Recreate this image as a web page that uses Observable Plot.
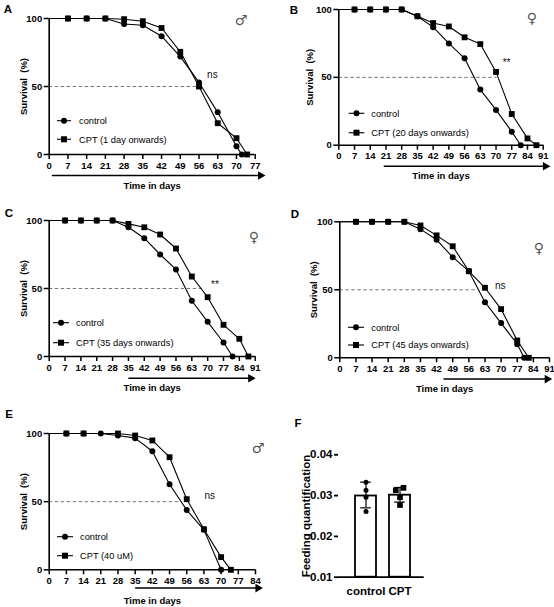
<!DOCTYPE html>
<html>
<head>
<meta charset="utf-8">
<script src="https://cdn.jsdelivr.net/npm/d3@7"></script>
<script src="https://cdn.jsdelivr.net/npm/@observablehq/plot@0.6"></script>
<style>
  body { margin: 0; background: #fff; }
  #fig { position: relative; width: 554px; height: 607px; font-family: "Liberation Sans", Arial, Helvetica, sans-serif; color: #000; }
  .panel { position: absolute; }
  .panel svg { overflow: visible; }
  .letter { position: absolute; font-weight: bold; font-size: 11.5px; line-height: 1; transform: translate(-50%, -50%); }
  .sex { position: absolute; font-family: "DejaVu Sans", sans-serif; font-size: 14px; line-height: 1; color: #555; transform: translate(-50%, -50%); }
  .overlay { position: absolute; left: 0; top: 0; pointer-events: none; overflow: visible; }
</style>
</head>
<body>
<div id="fig"></div>
<script>
// ---------------- DATA ----------------
// Panel A (male, CPT from day 1)
const ctrlDaysA = [0, 7, 14, 21, 28, 35, 42, 49, 56, 63, 70, 72];
const ctrlSurvA = [100, 100, 100, 100, 96, 95, 87, 72, 53, 31, 6, 0];
const cptDaysA  = [0, 7, 14, 21, 28, 35, 42, 49, 56, 63, 70, 74];
const cptSurvA  = [100, 100, 100, 100, 99.5, 98, 93, 75.5, 50, 23, 12, 0];
const xTicksA = [0, 7, 14, 21, 28, 35, 42, 49, 56, 63, 70, 77];

// Panel B (female, CPT from day 20)
const ctrlDaysB = [0, 7, 14, 21, 28, 35, 42, 49, 56, 63, 70, 77, 81];
const ctrlSurvB = [100, 100, 100, 100, 100, 95, 87, 75, 64, 41, 26, 10, 0];
const cptDaysB  = [0, 7, 14, 21, 28, 35, 42, 49, 56, 63, 70, 77, 84, 88];
const cptSurvB  = [100, 100, 100, 100, 100, 95, 90, 87.5, 79.5, 74.5, 54, 23, 5, 0];
const xTicksB = [0, 7, 14, 21, 28, 35, 42, 49, 56, 63, 70, 77, 84, 91];

// Panel C (female, CPT from day 35)
const ctrlDaysC = [0, 7, 14, 21, 28, 35, 42, 49, 56, 63, 70, 77, 81];
const ctrlSurvC = [100, 100, 100, 100, 100, 95, 87, 75, 64, 41, 25.5, 10.3, 0];
const cptDaysC  = [0, 7, 14, 21, 28, 35, 42, 49, 56, 63, 70, 77, 84, 88];
const cptSurvC  = [100, 100, 100, 100, 100, 97.5, 95, 89.7, 79.4, 58.8, 43.6, 23.3, 13, 0];
const xTicksC = [0, 7, 14, 21, 28, 35, 42, 49, 56, 63, 70, 77, 84, 91];

// Panel D (female, CPT from day 45)
const ctrlDaysD = [0, 7, 14, 21, 28, 35, 42, 49, 56, 63, 70, 77, 80];
const ctrlSurvD = [100, 100, 100, 100, 100, 94.6, 86.8, 74, 63.7, 40.9, 25.5, 10, 0];
const cptDaysD  = [0, 7, 14, 21, 28, 35, 42, 49, 56, 63, 70, 77, 82];
const cptSurvD  = [100, 100, 100, 100, 100, 97.3, 90, 82, 63.7, 51.5, 35.8, 12.7, 0];
const xTicksD = [0, 7, 14, 21, 28, 35, 42, 49, 56, 63, 70, 77, 84, 91];

// Panel E (male, CPT 40 uM)
const ctrlDaysE = [0, 7, 14, 21, 28, 35, 42, 49, 56, 63, 70];
const ctrlSurvE = [100, 100, 100, 100, 98.5, 96.6, 87, 62.8, 43.8, 29.3, 0];
const cptDaysE  = [0, 7, 14, 28, 35, 42, 49, 56, 63, 70, 74];
const cptSurvE  = [100, 100, 100, 100, 98.5, 94.9, 82.6, 51.8, 29.8, 9.3, 0];
const xTicksE = [0, 7, 14, 21, 28, 35, 42, 49, 56, 63, 70, 77, 84];

const yTicksSurv = [0, 50, 100];
const cptLabels = ["CPT (1 day onwards)", "CPT (20 days onwards)", "CPT (35 days onwards)", "CPT (45 days onwards)", "CPT (40 uM)"];
const treatStart = [1, 20, 35, 45, 35];        // start of the time arrow (days)
const arrowEnd   = [79, 92, 89, 90, 85];       // end of the time arrow (days)
const medianDay  = [55.5, 70.5, 67.5, 60, 53]; // end of the dashed 50% line (days)
const sigText = ["ns", "**", "**", "ns", "ns"];
const sigDay  = [61, 74.7, 73.2, 69.6, 65.4];
const sigSurv = [58.8, 61, 53, 53, 54];
const sexSymbols = ["\u2642\uFE0E", "\u2640\uFE0E", "\u2640\uFE0E", "\u2640\uFE0E", "\u2642\uFE0E"];

// Panel F (feeding quantification)
const groupsF = ["control", "CPT"];
const meansF  = [0.0299, 0.0301];
const errLoF  = [0.0270, 0.0284];
const errHiF  = [0.0333, 0.0320];
const ctrlPtsF = [0.0333, 0.0313, 0.0296, 0.0261];
const cptPtsF  = [0.0313, 0.0319, 0.0296, 0.0277];
const yTicksF = [0.01, 0.02, 0.03, 0.04];

// ---------------- LAYOUT ----------------
const FONT = '"Liberation Sans", Arial, Helvetica, sans-serif';
const fig = document.getElementById("fig");

const panels = [
  {id: "A", ctrlDays: ctrlDaysA, ctrlSurv: ctrlSurvA, cptDays: cptDaysA, cptSurv: cptSurvA, xTicks: xTicksA,
   left: 0, top: 0, h: 200, ml: 48.7, mr: 22.3, mt: 18, mb: 46, yLabOff: 29, arrowDy: 21,
   leg: {x0: 57, x1: 71, y0: 120.7, y1: 139.3, tx: 79}, letter: [8, 10], sex: [241, 20]},
  {id: "B", ctrlDays: ctrlDaysB, ctrlSurv: ctrlSurvB, cptDays: cptDaysB, cptSurv: cptSurvB, xTicks: xTicksB,
   left: 277, top: 0, h: 200, ml: 61.3, mr: 11.3, mt: 9, mb: 55.3, yLabOff: 32.3, arrowDy: 21,
   leg: {x0: 71.7, x1: 87.3, y0: 113.3, y1: 132.7, tx: 94.3}, letter: [17, 11], sex: [255, 18]},
  {id: "C", ctrlDays: ctrlDaysC, ctrlSurv: ctrlSurvC, cptDays: cptDaysC, cptSurv: cptSurvC, xTicks: xTicksC,
   left: 0, top: 200, h: 200, ml: 48.7, mr: 22.3, mt: 20, mb: 44, yLabOff: 28.7, arrowDy: 21.7,
   leg: {x0: 53, x1: 69, y0: 122.7, y1: 142.7, tx: 76}, letter: [9, 14], sex: [254, 37]},
  {id: "D", ctrlDays: ctrlDaysD, ctrlSurv: ctrlSurvD, cptDays: cptDaysD, cptSurv: cptSurvD, xTicks: xTicksD,
   left: 277, top: 200, h: 200, ml: 62.3, mr: 5, mt: 21.3, mb: 42.7, yLabOff: 29.9, arrowDy: 21.3,
   leg: {x0: 71, x1: 87, y0: 127.3, y1: 145, tx: 94.3}, letter: [18, 15], sex: [262, 48]},
  {id: "E", ctrlDays: ctrlDaysE, ctrlSurv: ctrlSurvE, cptDays: cptDaysE, cptSurv: cptSurvE, xTicks: xTicksE,
   left: 0, top: 400, h: 207, ml: 48.7, mr: 22, mt: 33, mb: 37.7, yLabOff: 28.7, arrowDy: 18.3,
   leg: {x0: 57, x1: 73, y0: 136.7, y1: 155.7, tx: 80}, letter: [9, 15], sex: [258, 48]}
];

function addDiv(cls, x, y, text) {
  const d = document.createElement("div");
  d.className = cls;
  d.style.left = x + "px";
  d.style.top = y + "px";
  d.textContent = text;
  fig.appendChild(d);
  return d;
}

panels.forEach((p, i) => {
  const ctrl = p.ctrlDays.map((d, k) => ({day: d, surv: p.ctrlSurv[k]}));
  const cpt = p.cptDays.map((d, k) => ({day: d, surv: p.cptSurv[k]}));
  const xMax = p.xTicks[p.xTicks.length - 1];

  const chart = Plot.plot({
    width: 277, height: p.h,
    marginLeft: p.ml, marginRight: p.mr, marginTop: p.mt, marginBottom: p.mb,
    style: {fontFamily: FONT, fontSize: "9.5px", fontWeight: "bold", background: "transparent", color: "#000", overflow: "visible"},
    x: {domain: [0, xMax]},
    y: {domain: [0, 100]},
    marks: [
      Plot.ruleY([50], {x1: 0, x2: medianDay[i], stroke: "#777", strokeWidth: 1, strokeDasharray: "3.5,2.5"}),
      Plot.line(ctrl, {x: "day", y: "surv", stroke: "#000", strokeWidth: 1.1}),
      Plot.line(cpt, {x: "day", y: "surv", stroke: "#000", strokeWidth: 1.1}),
      Plot.dot(ctrl.filter(d => d.day > 0), {x: "day", y: "surv", r: 3, fill: "#000", symbol: "circle"}),
      Plot.dot(cpt.filter(d => d.day > 0), {x: "day", y: "surv", r: 3.3, fill: "#000", symbol: "square"}),
      Plot.ruleX([0], {stroke: "#000", strokeWidth: 1.6}),
      Plot.ruleY([0], {stroke: "#000", strokeWidth: 1.6}),
      Plot.axisX({ticks: p.xTicks, tickSize: 5, tickPadding: 2.5, strokeWidth: 1.5, fontSize: 9.5, fontWeight: "bold",
        label: "Time in days", labelAnchor: "center", labelOffset: 34, labelArrow: "none"}),
      Plot.axisY({ticks: yTicksSurv, tickSize: 5, tickPadding: 2, strokeWidth: 1.5, fontSize: 9.5, fontWeight: "bold",
        label: "Survival\u00a0 (%)", labelAnchor: "center", labelOffset: p.yLabOff, labelArrow: "none"}),
      Plot.link([treatStart[i]], {x1: d => d, x2: arrowEnd[i], y1: 0, y2: 0, dy: p.arrowDy, stroke: "#000", strokeWidth: 1.5}),
      Plot.dot([arrowEnd[i]], {x: d => d, y: 0, dy: p.arrowDy, symbol: "triangle", rotate: 90, r: 3.2, fill: "#000"}),
      Plot.text([sigText[i]], {x: sigDay[i], y: sigSurv[i], text: d => d, fontSize: 10, fontWeight: "normal", fill: "#111"})
    ]
  });

  const wrap = document.createElement("div");
  wrap.className = "panel";
  wrap.style.left = p.left + "px";
  wrap.style.top = p.top + "px";
  wrap.style.width = "277px";
  wrap.style.height = p.h + "px";
  wrap.appendChild(chart);

  // legend overlay
  const svg = d3.create("svg").attr("class", "overlay").attr("width", 277).attr("height", p.h);
  const rows = [
    {y: p.leg.y0, sym: "circle", label: "control"},
    {y: p.leg.y1, sym: "square", label: cptLabels[i]}
  ];
  rows.forEach(r => {
    svg.append("line").attr("x1", p.leg.x0).attr("x2", p.leg.x1).attr("y1", r.y).attr("y2", r.y)
      .attr("stroke", "#000").attr("stroke-width", 1.1);
    const cx = (p.leg.x0 + p.leg.x1) / 2;
    if (r.sym === "circle") svg.append("circle").attr("cx", cx).attr("cy", r.y).attr("r", 3).attr("fill", "#000");
    else svg.append("rect").attr("x", cx - 3).attr("y", r.y - 3).attr("width", 6).attr("height", 6).attr("fill", "#000");
    svg.append("text").attr("x", p.leg.tx).attr("y", r.y).attr("dy", "0.35em")
      .attr("font-family", FONT).attr("font-size", 9.3).attr("fill", "#000").text(r.label);
  });
  wrap.appendChild(svg.node());
  fig.appendChild(wrap);

  addDiv("letter", p.left + p.letter[0], p.top + p.letter[1], p.id);
  addDiv("sex", p.left + p.sex[0], p.top + p.sex[1], sexSymbols[i]);
});

// ---------------- PANEL F ----------------
(function () {
  const bars = groupsF.map((g, k) => ({group: g, mean: meansF[k], lo: errLoF[k], hi: errHiF[k]}));
  const ctrlPts = ctrlPtsF.map(v => ({group: groupsF[0], value: v}));
  const cptPts = cptPtsF.map(v => ({group: groupsF[1], value: v}));
  const chart = Plot.plot({
    width: 160, height: 207,
    marginLeft: 61, marginRight: 13.3, marginTop: 54.3, marginBottom: 30.3,
    style: {fontFamily: FONT, fontSize: "11.5px", fontWeight: "bold", background: "transparent", color: "#000", overflow: "visible"},
    x: {domain: groupsF, range: [77.3, 133.3], paddingInner: 0.38, paddingOuter: 0},
    y: {domain: [yTicksF[0], yTicksF[yTicksF.length - 1]]},
    marks: [
      Plot.barY(bars, {x: "group", y1: yTicksF[0], y2: "mean", fill: "#fff", stroke: "#000", strokeWidth: 1.8}),
      Plot.ruleX(bars, {x: "group", y1: "lo", y2: "hi", stroke: "#000", strokeWidth: 1.2}),
      Plot.tickY(bars, {x: "group", y: "lo", insetLeft: 5.2, insetRight: 5.2, stroke: "#000", strokeWidth: 1.2}),
      Plot.tickY(bars, {x: "group", y: "hi", insetLeft: 5.2, insetRight: 5.2, stroke: "#000", strokeWidth: 1.2}),
      Plot.dot(ctrlPts, {x: "group", y: "value", r: 2.5, fill: "#000"}),
      Plot.dot(cptPts.slice(0, 1), {x: "group", y: "value", dx: -4.2, r: 3.2, symbol: "square", fill: "#000"}),
      Plot.dot(cptPts.slice(1, 2), {x: "group", y: "value", dx: 3.5, r: 3.2, symbol: "square", fill: "#000"}),
      Plot.dot(cptPts.slice(2), {x: "group", y: "value", r: 3.2, symbol: "square", fill: "#000"}),
      Plot.ruleY([yTicksF[0]], {stroke: "#000", strokeWidth: 1.8}),
      Plot.axisY({ticks: yTicksF, tickFormat: d3.format(".2f"), tickSize: 4, tickPadding: 2, strokeWidth: 1.8,
        fontSize: 11.5, fontWeight: "bold", line: true, label: "Feeding quantification", labelAnchor: "center", labelOffset: 36.5, labelArrow: "none"}),
      Plot.axisX({tickSize: 0, tickPadding: 10, fontSize: 11.5, fontWeight: "bold", label: null}),
      Plot.text(["ns"], {x: groupsF[1], y: 0.0361, text: d => d, fontSize: 10, fontWeight: "normal"})
    ]
  });
  const wrap = document.createElement("div");
  wrap.className = "panel";
  wrap.style.left = "277px";
  wrap.style.top = "400px";
  wrap.appendChild(chart);
  fig.appendChild(wrap);
  addDiv("letter", 277 + 21, 400 + 24, "F");
})();
</script>
</body>
</html>
